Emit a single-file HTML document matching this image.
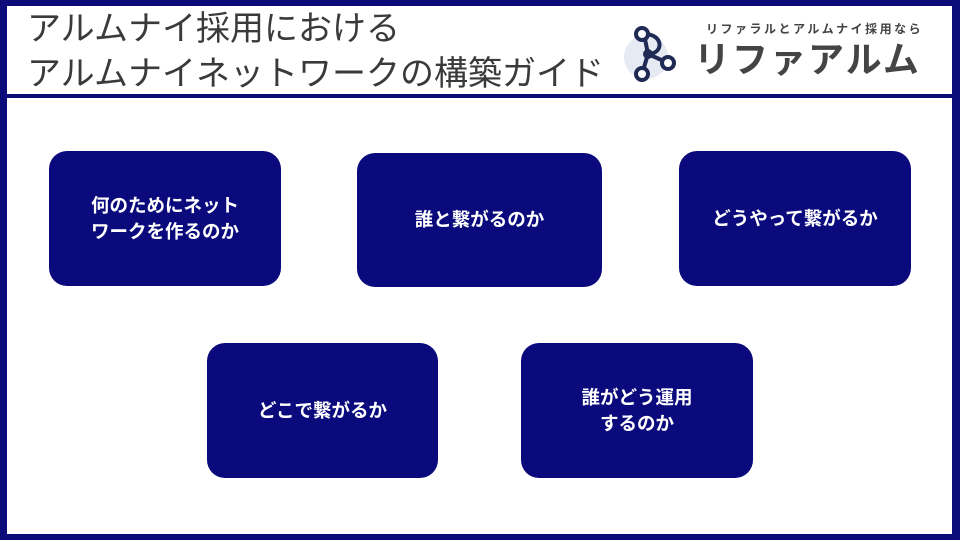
<!DOCTYPE html>
<html><head><meta charset="utf-8"><style>
body{margin:0;width:960px;height:540px;overflow:hidden;background:#fff;font-family:"Liberation Sans","Noto Sans CJK JP",sans-serif;position:relative}
.frame{position:absolute;left:0;top:0;width:960px;height:540px;box-sizing:border-box;border:solid #0b0b7a;border-width:6px 8px 6px 7px}
.div{position:absolute;left:0;top:94px;width:960px;height:4px;background:#0b0b7a}
.t{position:absolute;left:27px;color:#3a3a3a;font-size:34px;line-height:40px;white-space:nowrap}
.b{position:absolute;background:#0a0a7c;border-radius:18px;color:#fff;font-weight:bold;font-size:18.5px;line-height:26px;display:flex;align-items:center;justify-content:center;text-align:center}
.sub{position:absolute;left:706px;top:20px;font-size:12px;font-weight:bold;color:#444;letter-spacing:2.5px;white-space:nowrap}
.logo{position:absolute;left:694px;top:38px;font-size:36px;line-height:44px;font-weight:bold;color:#444;letter-spacing:2px;white-space:nowrap}
</style></head><body>
<div class="frame"></div><div class="div"></div>
<div class="t" style="top:9px">アルムナイ採用における</div>
<div class="t" style="top:54px">アルムナイネットワークの構築ガイド</div>
<svg style="position:absolute;left:618px;top:22px" width="66" height="60">
<circle cx="28" cy="35" r="22" fill="#e6eaf3"/>
<g stroke="#1f2a55" stroke-width="4" fill="none">
<path d="M26 12 C46 12 46 32 30 32"/><line x1="30" y1="32" x2="24" y2="52"/><line x1="30" y1="32" x2="48" y2="40"/><line x1="26" y1="12" x2="30" y2="32"/>
</g>
<circle cx="24" cy="12" r="6" fill="#fff" stroke="#1f2a55" stroke-width="4"/>
<circle cx="24" cy="52" r="6" fill="#fff" stroke="#1f2a55" stroke-width="4"/>
<circle cx="50" cy="41" r="6" fill="#fff" stroke="#1f2a55" stroke-width="4"/>
<circle cx="30" cy="32" r="5" fill="#1f2a55"/>
</svg>
<div class="sub">リファラルとアルムナイ採用なら</div>
<div class="logo">リファアルム</div>
<div class="b" style="left:49px;top:151px;width:232px;height:135px">何のためにネット<br>ワークを作るのか</div>
<div class="b" style="left:357px;top:153px;width:245px;height:134px">誰と繋がるのか</div>
<div class="b" style="left:679px;top:151px;width:232px;height:135px">どうやって繋がるか</div>
<div class="b" style="left:207px;top:343px;width:231px;height:135px">どこで繋がるか</div>
<div class="b" style="left:521px;top:343px;width:232px;height:135px">誰がどう運用<br>するのか</div>
</body></html>
